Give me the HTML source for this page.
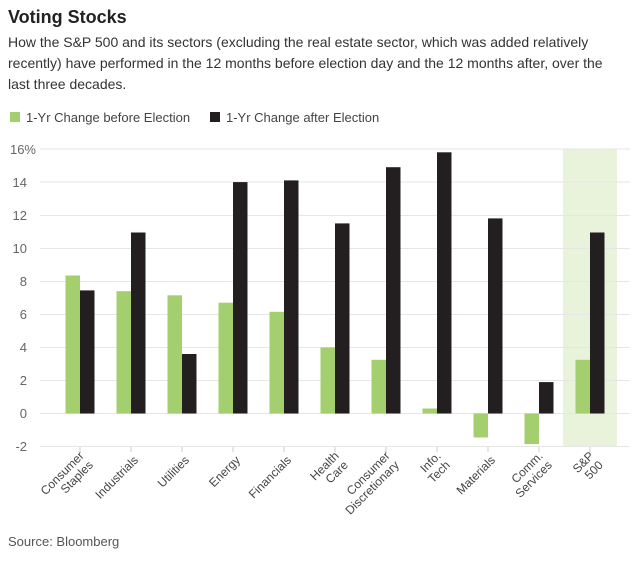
<!DOCTYPE html>
<html><head><meta charset="utf-8"><style>
body{margin:0;background:#fff;width:642px;height:559px;overflow:hidden;font-family:"Liberation Sans",sans-serif;}
</style></head><body>
<svg width="642" height="559" xmlns="http://www.w3.org/2000/svg" font-family="Liberation Sans, sans-serif">
<text x="8" y="23" font-size="18" font-weight="bold" fill="#222">Voting Stocks</text>
<text font-size="14" fill="#333"><tspan x="8" y="47">How the S&amp;P 500 and its sectors (excluding the real estate sector, which was added relatively</tspan><tspan x="8" y="68">recently) have performed in the 12 months before election day and the 12 months after, over the</tspan><tspan x="8" y="89">last three decades.</tspan></text>
<rect x="10" y="112" width="10" height="10" fill="#a3cf6e"/>
<text x="26" y="122" font-size="13" fill="#444">1-Yr Change before Election</text>
<rect x="210" y="112" width="10" height="10" fill="#231f20"/>
<text x="226" y="122" font-size="13" fill="#444">1-Yr Change after Election</text>
<rect x="563" y="149" width="54" height="298" fill="#e9f3dc"/>
<g stroke="#e6e6e6" stroke-width="1">
<line x1="40" x2="630" y1="149" y2="149"/><line x1="40" x2="630" y1="182" y2="182"/><line x1="40" x2="630" y1="215.5" y2="215.5"/><line x1="40" x2="630" y1="248.5" y2="248.5"/><line x1="40" x2="630" y1="281.5" y2="281.5"/><line x1="40" x2="630" y1="314.5" y2="314.5"/><line x1="40" x2="630" y1="347.5" y2="347.5"/><line x1="40" x2="630" y1="380.5" y2="380.5"/><line x1="40" x2="630" y1="413.5" y2="413.5"/><line x1="40" x2="630" y1="446.5" y2="446.5"/>
</g>
<g font-size="13" fill="#666" text-anchor="end">
<text x="36" y="154">16%</text><text x="27" y="187">14</text><text x="27" y="220">12</text><text x="27" y="253">10</text><text x="27" y="286">8</text><text x="27" y="319">6</text><text x="27" y="352">4</text><text x="27" y="385">2</text><text x="27" y="418">0</text><text x="27" y="451">-2</text>
</g>
<g fill="#a3cf6e">
<rect x="65.5" y="275.5" width="14.5" height="138"/>
<rect x="116.5" y="291.2" width="14.5" height="122.3"/>
<rect x="167.5" y="295.3" width="14.5" height="118.2"/>
<rect x="218.5" y="302.7" width="14.5" height="110.8"/>
<rect x="269.5" y="311.8" width="14.5" height="101.7"/>
<rect x="320.5" y="347.4" width="14.5" height="66.1"/>
<rect x="371.5" y="359.8" width="14.5" height="53.7"/>
<rect x="422.5" y="408.5" width="14.5" height="5"/>
<rect x="473.5" y="413.5" width="14.5" height="24"/>
<rect x="524.5" y="413.5" width="14.5" height="30.6"/>
<rect x="575.5" y="359.8" width="14.5" height="53.7"/>
</g>
<g fill="#231f20">
<rect x="80" y="290.4" width="14.5" height="123.1"/>
<rect x="131" y="232.5" width="14.5" height="181"/>
<rect x="182" y="354" width="14.5" height="59.5"/>
<rect x="233" y="182.1" width="14.5" height="231.4"/>
<rect x="284" y="180.4" width="14.5" height="233.1"/>
<rect x="335" y="223.4" width="14.5" height="190.1"/>
<rect x="386" y="167.2" width="14.5" height="246.3"/>
<rect x="437" y="152.3" width="14.5" height="261.2"/>
<rect x="488" y="218.4" width="14.5" height="195.1"/>
<rect x="539" y="382.1" width="14.5" height="31.4"/>
<rect x="590" y="232.5" width="14.5" height="181"/>
</g>
<g stroke="#ccc">
<line x1="80" x2="80" y1="447" y2="452"/><line x1="131" x2="131" y1="447" y2="452"/><line x1="182" x2="182" y1="447" y2="452"/><line x1="233" x2="233" y1="447" y2="452"/><line x1="284" x2="284" y1="447" y2="452"/><line x1="335" x2="335" y1="447" y2="452"/><line x1="386" x2="386" y1="447" y2="452"/><line x1="437" x2="437" y1="447" y2="452"/><line x1="488" x2="488" y1="447" y2="452"/><line x1="539" x2="539" y1="447" y2="452"/><line x1="590" x2="590" y1="447" y2="452"/>
</g>
<g font-size="12" fill="#444" text-anchor="end">
<text transform="translate(86,458) rotate(-45)"><tspan x="0" y="-2">Consumer</tspan><tspan x="0" y="11">Staples</tspan></text>
<text transform="translate(136,458) rotate(-45)"><tspan x="0" y="4">Industrials</tspan></text>
<text transform="translate(187,458) rotate(-45)"><tspan x="0" y="4">Utilities</tspan></text>
<text transform="translate(238,458) rotate(-45)"><tspan x="0" y="4">Energy</tspan></text>
<text transform="translate(289,458) rotate(-45)"><tspan x="0" y="4">Financials</tspan></text>
<text transform="translate(341,458) rotate(-45)"><tspan x="0" y="-2">Health</tspan><tspan x="0" y="11">Care</tspan></text>
<text transform="translate(392,458) rotate(-45)"><tspan x="0" y="-2">Consumer</tspan><tspan x="0" y="11">Discretionary</tspan></text>
<text transform="translate(443,458) rotate(-45)"><tspan x="0" y="-2">Info.</tspan><tspan x="0" y="11">Tech</tspan></text>
<text transform="translate(493,458) rotate(-45)"><tspan x="0" y="4">Materials</tspan></text>
<text transform="translate(545,458) rotate(-45)"><tspan x="0" y="-2">Comm.</tspan><tspan x="0" y="11">Services</tspan></text>
<text transform="translate(596,458) rotate(-45)"><tspan x="0" y="-2">S&amp;P</tspan><tspan x="0" y="11">500</tspan></text>
</g>
<text x="8" y="546" font-size="13" fill="#555">Source: Bloomberg</text>
</svg>
</body></html>
